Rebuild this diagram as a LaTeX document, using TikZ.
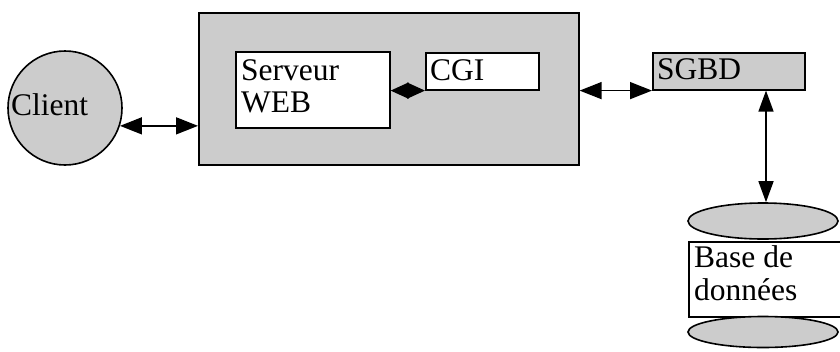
\documentclass[tikz,border=0pt]{standalone}
\usepackage{fontspec}
\setmainfont{Liberation Serif}
\usetikzlibrary{arrows.meta,shapes.geometric}
\definecolor{boxgray}{HTML}{CCCCCC}
\begin{document}
\begin{tikzpicture}[x=1pt,y=-1pt,
  shape box/.style={draw=black, line width=1.6pt, rectangle, inner sep=0pt, anchor=north west},
  lbl/.style={anchor=base west, inner sep=0pt, font=\fontsize{31.5}{32}\selectfont},
  conn/.style={line width=1.5pt, {Triangle[length=22pt,width=17pt]}-{Triangle[length=22pt,width=17pt]}},
  short conn/.style={line width=1.5pt, {Triangle[length=18pt,width=16pt]}-{Triangle[length=18pt,width=16pt]}},
  vconn/.style={line width=1.5pt, {Triangle[length=21pt,width=15pt]}-{Triangle[length=21pt,width=15pt]}}]
\useasboundingbox (0,0) rectangle (840,351);
% client
\node[circle, draw=black, line width=1.6pt, fill=boxgray, minimum size=114pt, inner sep=0pt] (client) at (65,108) {};
\node[lbl] (clientlbl) at (11,115) {Client};
% server
\node[shape box, fill=boxgray, minimum width=380pt, minimum height=152pt] (server) at (198,12) {};
\node[shape box, fill=white, minimum width=154pt, minimum height=76pt] (web) at (235,51) {};
\node[lbl] (weblbl1) at (241,80) {Serveur};
\node[lbl] (weblbl2) at (241,112) {WEB};
\node[shape box, fill=white, minimum width=113pt, minimum height=37pt] (cgi) at (425,52) {};
\node[lbl] (cgilbl) at (430,80) {CGI};
% SGBD
\node[shape box, fill=boxgray, minimum width=152pt, minimum height=37pt] (sgbd) at (652,52) {};
\node[lbl] (sgbdlbl) at (657,79) {SGBD};
% database
\node[ellipse, draw=black, line width=1.6pt, fill=boxgray, minimum width=150pt, minimum height=36pt, inner sep=0pt] (topdisk) at (763,221) {};
\node[shape box, fill=white, minimum width=160pt, minimum height=75pt] (db) at (688,241) {};
\node[lbl] (dblbl1) at (694,267) {Base de};
\node[lbl] (dblbl2) at (694,300) {données};
\node[ellipse, draw=black, line width=1.6pt, fill=boxgray, minimum width=150pt, minimum height=31pt, inner sep=0pt] (botdisk) at (763,332) {};
% connectors
\draw[conn] (client.-18) -- (server.west |- client.-18);
\draw[short conn] (web.east |- cgi.south) -- (cgi.south west);
\draw[conn] (server.east |- sgbd.south) -- (sgbd.south west);
\coordinate (vx) at (766,0);
\draw[vconn] (sgbd.south -| vx) -- (topdisk.north -| vx);
\end{tikzpicture}
\end{document}
